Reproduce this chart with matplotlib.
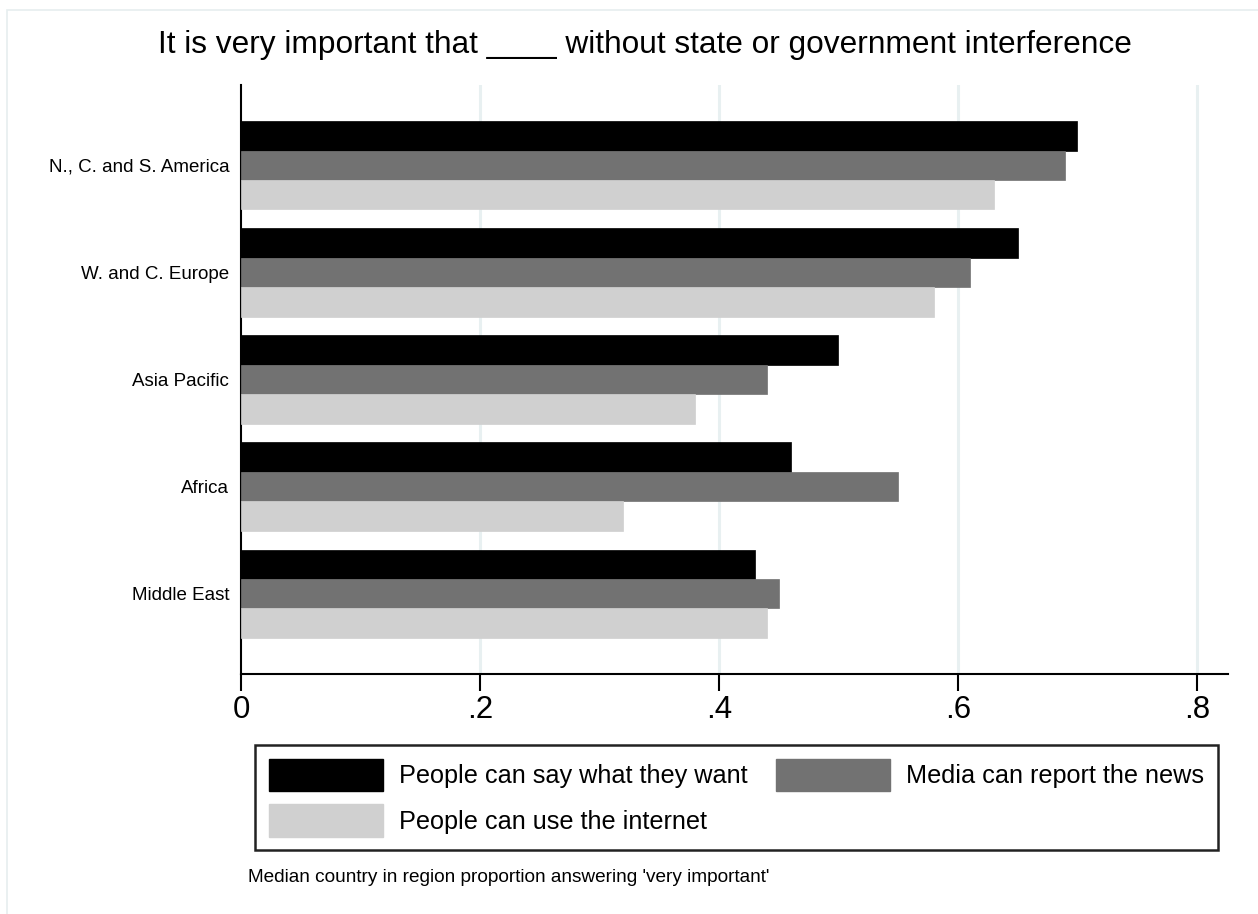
import matplotlib
matplotlib.use("Agg")
import matplotlib.pyplot as plt
from matplotlib.patches import Patch, Rectangle
import numpy as np

plt.rcParams['font.family'] = ['Liberation Sans', 'DejaVu Sans']

regions = ["N., C. and S. America", "W. and C. Europe", "Asia Pacific", "Africa", "Middle East"]
say_what_they_want = [0.70, 0.65, 0.50, 0.46, 0.43]
media_report_news = [0.69, 0.61, 0.44, 0.55, 0.45]
use_internet = [0.63, 0.58, 0.38, 0.32, 0.44]
series_labels = ["People can say what they want", "Media can report the news", "People can use the internet"]
series_colors = ["#000000", "#727272", "#d0d0d0"]
xticks = [0, 0.2, 0.4, 0.6, 0.8]
xticklabels = ["0", ".2", ".4", ".6", ".8"]

W, H = 1258, 914
fig = plt.figure(figsize=(W / 100, H / 100), dpi=100)
fig.patch.set_facecolor("white")

# outer border
fig.add_artist(Rectangle((7 / W, -0.2), 1.2, 1.2 - 10 / H, transform=fig.transFigure,
                         fill=False, edgecolor="#e6eeef", linewidth=1.2))

ax = fig.add_axes([241 / W, 1 - 674 / H, (1228 - 241) / W, (674 - 85) / H])

pos = np.arange(len(regions))
bh = 0.275
series = [say_what_they_want, media_report_news, use_internet]
for i, (vals, col) in enumerate(zip(series, series_colors)):
    ax.barh(pos + (i - 1) * bh, vals, height=bh, color=col, edgecolor=col, linewidth=0.5, zorder=3)

ax.set_ylim(4.75, -0.75)
ax.set_xlim(0, 0.826)
ax.set_yticks(pos)
ax.set_yticklabels(regions, fontsize=13.5)
ax.tick_params(axis="y", length=0, pad=8.5)
ax.set_xticks(xticks)
ax.set_xticklabels(xticklabels, fontsize=22.5)
ax.tick_params(axis="x", length=12, width=1.5, direction="out", pad=3)
for x in xticks[1:]:
    ax.axvline(x, color="#e8f0f1", linewidth=2.2, zorder=1)
for s in ["top", "right"]:
    ax.spines[s].set_visible(False)
for s in ["left", "bottom"]:
    ax.spines[s].set_linewidth(1.5)

fig.text(645 / W, 1 - 45 / H, "It is very important that ____ without state or government interference",
         ha="center", va="center", fontsize=22.8)

handles = [Patch(facecolor=series_colors[0], edgecolor=series_colors[0]),
           Patch(facecolor=series_colors[2], edgecolor=series_colors[2]),
           Patch(facecolor=series_colors[1], edgecolor=series_colors[1])]
labels = [series_labels[0], series_labels[2], series_labels[1]]
leg = fig.legend(handles, labels, ncol=2, loc="upper left",
                 bbox_to_anchor=(255 / W, 1 - 849 / H, (1218 - 255) / W, (849 - 745) / H),
                 mode="expand", fontsize=18.2, frameon=True, fancybox=False, framealpha=1,
                 handlelength=4.5, handleheight=1.6, handletextpad=0.65,
                 labelspacing=0.5, borderaxespad=0, borderpad=0.55, columnspacing=1.4)
leg.get_frame().set_edgecolor("#222222")
leg.get_frame().set_linewidth(1.8)

fig.text(248 / W, 1 - 877 / H, "Median country in region proportion answering 'very important'",
         ha="left", va="center", fontsize=13.7)

fig.savefig("out.png", dpi=100)
